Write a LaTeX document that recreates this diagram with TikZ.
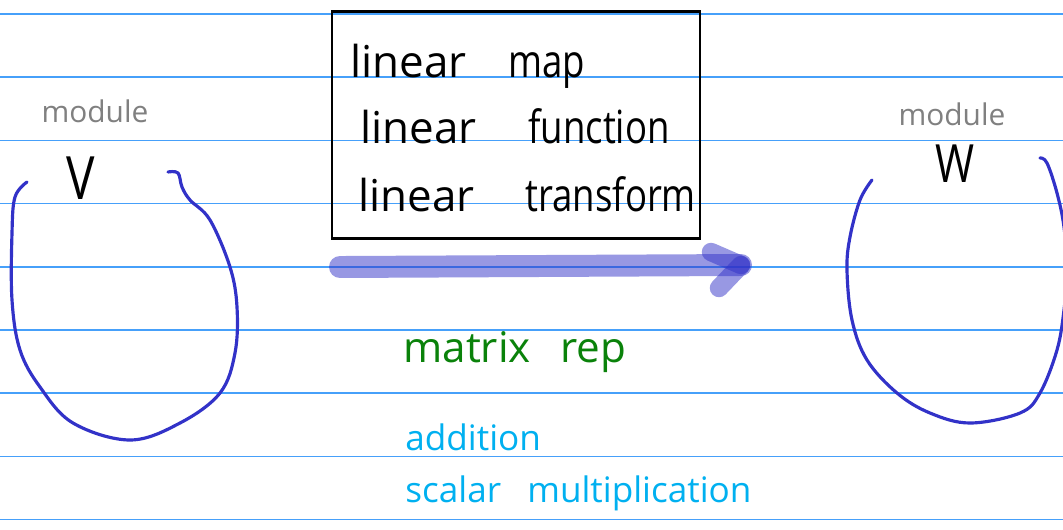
\documentclass[tikz,border=0pt]{standalone}
\usepackage{fontspec}
\setmainfont{Open Sans}
\newfontfamily\narrowfont[FakeStretch=0.8]{Open Sans}

\definecolor{ruleblue}{RGB}{70,160,250}
\definecolor{penblue}{RGB}{50,50,200}
\definecolor{pengreen}{RGB}{10,130,10}
\definecolor{pencyan}{RGB}{0,176,240}
\definecolor{pengrey}{RGB}{128,128,128}

\tikzset{
  word/.style={inner sep=0pt, anchor=base west},
  boxword/.style={word, font=\fontsize{25}{28}\selectfont},
  boxnarrow/.style={word, font=\narrowfont\fontsize{26}{28}\selectfont},
  modlabel/.style={inner sep=0pt, text=pengrey, font=\fontsize{17}{19}\selectfont},
  setname/.style={inner sep=0pt, font=\narrowfont\fontsize{34}{40}\selectfont},
  blob/.style={penblue, line width=1.8pt, line cap=round, line join=round},
  stroke/.style={penblue, opacity=0.5, line cap=round, line join=round}
}

\begin{document}
\begin{tikzpicture}[x=0.02cm, y=-0.02cm]
  \useasboundingbox (0,0) rectangle (1063,529);
  \fill[white] (0,0) rectangle (1063,529);
  % Ruled lines of the page
  \foreach \k in {0,...,8} {
    \draw[ruleblue, line width=0.9pt] (0,14+63.2*\k) -- (1063,14+63.2*\k);
  }
  % Left set V
  \node[modlabel] (modV) at (95,111) {module};
  \node[setname] (V) at (81,178) {V};
  \draw[blob] plot[smooth, tension=0.6] coordinates {
    (27,182) (15,197) (12,233) (12,300) (20,350) (40,387) (73,423)
    (130,440) (180,423) (220,393) (235,353) (237,307) (230,267)
    (210,220) (190,200) (182,187) (178,173) (168,172)};
  % Right set W
  \node[modlabel] (modW) at (952,114) {module};
  \node[setname, font=\narrowfont\fontsize{30}{34}\selectfont] (W) at (955,164) {W};
  \begin{scope}
    \clip (0,0) rectangle (1063,529);
    \draw[blob] plot[smooth, tension=0.6] coordinates {
      (872,180) (860,200) (850,237) (847,270) (852,320) (867,360)
      (897,393) (930,413) (970,423) (1020,413) (1040,393) (1057,350)
      (1064,310) (1067,270) (1064,227) (1057,193) (1047,163) (1040,158)};
  \end{scope}
  % Box of names for the map
  \draw[line width=1.7pt] (332,11) rectangle (700,238);
  \node[boxword] (lin1) at (350,77) {linear};
  \node[boxnarrow] (map) at (508,77) {map};
  \node[boxword] (lin2) at (360,143) {linear};
  \node[boxnarrow] (func) at (528,143) {function};
  \node[boxword] (lin3) at (358,211) {linear};
  \node[boxnarrow] (trans) at (525,211) {transform};
  % Arrow V -> W
  \coordinate (tail) at (340,267);
  \coordinate (tip) at (741,265);
  \coordinate (barbup) at (711,252);
  \coordinate (barbdown) at (719,288);
  \draw[stroke, line width=12.5pt] (tail) -- (tip);
  \draw[stroke, line width=10.5pt] (barbup) -- (tip);
  \draw[stroke, line width=10.5pt] (tip) -- (barbdown);
  % Notes under the arrow
  \node[word, text=pengreen, font=\fontsize{24}{26}\selectfont] (matrix) at (403,362) {matrix};
  \node[word, text=pengreen, font=\fontsize{24}{26}\selectfont] (rep) at (560,362) {rep};
  \node[word, text=pencyan, font=\fontsize{20}{22}\selectfont] (add) at (405,450) {addition};
  \node[word, text=pencyan, font=\fontsize{20}{22}\selectfont] (scalar) at (405,502) {scalar};
  \node[word, text=pencyan, font=\fontsize{20}{22}\selectfont] (mult) at (527,502) {multiplication};
\end{tikzpicture}
\end{document}
